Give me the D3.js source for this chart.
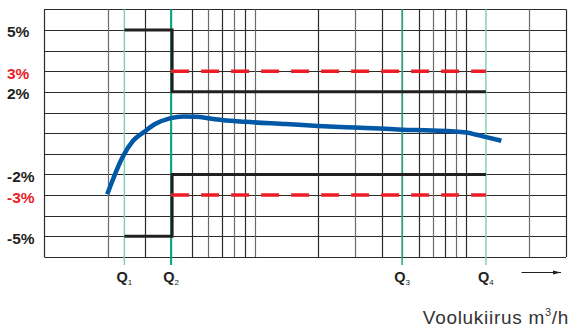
<!DOCTYPE html>
<html>
<head>
<meta charset="utf-8">
<script src="https://cdn.jsdelivr.net/npm/d3@7"></script>
<style>
    body { margin: 0; background: #fff; }
    svg { display: block; font-family: "Liberation Sans", Arial, sans-serif; }
</style>
</head>
<body>
<div id="graph-container"></div>
<script>
// Data_____________________________________________________
const qNames = ['1', '2', '3', '4'];
const qValues = [2.4, 4, 50, 125];
const yLabelValues = [5, 3, 2, -2, -3, -5];
const mainLimit = [5, 2];        // % : low zone (Q1-Q2), upper zone (Q2-Q4)
const transitionLimit = [3];     // % : dashed red limit
const flowValues = [1.99, 2.37, 2.64, 2.98, 3.36, 3.98, 4.57, 5.29, 6.11, 7.0, 8.97, 14.1, 19.9, 29.9, 39.2, 50, 69, 101, 113, 124, 148];
const errorValues = [-2.96, -1.10, -0.37, 0.06, 0.44, 0.73, 0.81, 0.79, 0.71, 0.64, 0.55, 0.44, 0.35, 0.27, 0.22, 0.17, 0.13, 0.03, -0.08, -0.18, -0.37];
const xTitle = 'Voolukiirus m';

// Variables________________________________________________
const width = 572;
const height = 330;
const plot = { left: 44.3, right: 566, top: 9.3, bottom: 257 };
const qColors = ['#7fd4b8', '#00a583', '#20a684', '#7fd4b8'];

const x = d3.scaleLog().domain([1, 300]).range([plot.left, plot.right]);
const y = d3.scaleLinear().domain([-6, 6]).range([plot.bottom, plot.top]);

const svg = d3.select('#graph-container')
    .append('svg')
    .attr('width', width)
    .attr('height', height);

// Grid_____________________________________________________
svg.append('g')
    .selectAll('line')
    .data(y.ticks(12))
    .enter()
    .append('line')
    .attr('x1', plot.left)
    .attr('x2', x(300))
    .attr('y1', d => Math.round(y(d)) + 0.5)
    .attr('y2', d => Math.round(y(d)) + 0.5)
    .attr('stroke', '#2b2b2b')
    .attr('stroke-width', 1);

svg.append('g')
    .selectAll('line')
    .data(x.ticks())
    .enter()
    .append('line')
    .attr('x1', d => Math.round(x(d)) + 0.5)
    .attr('x2', d => Math.round(x(d)) + 0.5)
    .attr('y1', y(6))
    .attr('y2', y(-6))
    .attr('stroke', (d, i) => i % 2 ? '#6a6a6a' : '#2b2b2b')
    .attr('stroke-width', 1.2);

// Q lines + labels__________________________________________
svg.append('g')
    .selectAll('line')
    .data(qValues)
    .enter()
    .append('line')
    .attr('x1', d => x(d))
    .attr('x2', d => x(d))
    .attr('y1', y(6))
    .attr('y2', y(-6) + 8)
    .attr('stroke', (d, i) => qColors[i])
    .attr('stroke-width', (d, i) => i === 1 ? 2 : 1.5);

const qText = svg.append('g')
    .selectAll('text')
    .data(qValues)
    .enter()
    .append('text')
    .attr('x', d => x(d))
    .attr('y', 282)
    .attr('text-anchor', 'middle')
    .attr('font-weight', 'bold')
    .attr('font-size', 14.5)
    .attr('fill', '#231f20');
qText.append('tspan').text('Q');
qText.append('tspan')
    .attr('font-size', 8)
    .attr('font-weight', 'normal')
    .attr('dy', 2.5)
    .text((d, i) => qNames[i]);

// Limits_________________________________________________
const limitPath = (sign) => {
    const p = d3.path();
    p.moveTo(x(qValues[0]), y(sign * mainLimit[0]));
    p.lineTo(x(qValues[1]) + 1, y(sign * mainLimit[0]));
    p.lineTo(x(qValues[1]) + 1, y(sign * mainLimit[1]));
    p.lineTo(x(qValues[3]), y(sign * mainLimit[1]));
    return p.toString();
};

svg.append('g')
    .selectAll('path')
    .data([1, -1])
    .enter()
    .append('path')
    .attr('d', d => limitPath(d))
    .attr('fill', 'none')
    .attr('stroke', '#231f20')
    .attr('stroke-width', 3);

svg.append('g')
    .selectAll('line')
    .data([transitionLimit[0], -transitionLimit[0]])
    .enter()
    .append('line')
    .attr('x1', x(qValues[1]))
    .attr('x2', x(qValues[3]))
    .attr('y1', d => y(d))
    .attr('y2', d => y(d))
    .attr('stroke', '#ee1c25')
    .attr('stroke-width', 3.5)
    .attr('stroke-dasharray', '18,12');

// Y labels________________________________________________
svg.append('g')
    .selectAll('text')
    .data(yLabelValues)
    .enter()
    .append('text')
    .attr('x', 7)
    .attr('y', d => y(d) + 7.5)
    .attr('font-weight', 'bold')
    .attr('font-size', 15.5)
    .attr('fill', d => Math.abs(d) === transitionLimit[0] ? '#ee1c25' : '#231f20')
    .text(d => d + '%');

// Error curve_____________________________________________
const line = d3.line()
    .x(d => x(d[0]))
    .y(d => y(d[1]))
    .curve(d3.curveMonotoneX);

svg.append('path')
    .datum(flowValues.map((f, i) => [f, errorValues[i]]))
    .attr('d', line)
    .attr('fill', 'none')
    .attr('stroke', '#0058a6')
    .attr('stroke-width', 4.5);

// Axis arrow + title________________________________________
svg.append('defs')
    .append('marker')
    .attr('id', 'arrow')
    .attr('viewBox', '0 0 8 6')
    .attr('refX', 8)
    .attr('refY', 3)
    .attr('markerWidth', 8)
    .attr('markerHeight', 6)
    .attr('markerUnits', 'userSpaceOnUse')
    .attr('orient', 'auto')
    .append('path')
    .attr('d', 'M0,1 L8,3 L0,5 Z')
    .attr('fill', '#231f20');

svg.append('line')
    .attr('x1', 521.5)
    .attr('x2', 561)
    .attr('y1', 272.5)
    .attr('y2', 272.5)
    .attr('stroke', '#231f20')
    .attr('stroke-width', 1)
    .attr('marker-end', 'url(#arrow)');

const title = svg.append('text')
    .attr('x', 569)
    .attr('y', 323.5)
    .attr('text-anchor', 'end')
    .attr('font-size', 19)
    .attr('letter-spacing', 0.7)
    .attr('fill', '#333')
    .text(xTitle);
title.append('tspan')
    .attr('font-size', 11)
    .attr('dy', -7.5)
    .text('3');
title.append('tspan')
    .attr('dy', 7.5)
    .text('/h');
</script>
</body>
</html>
